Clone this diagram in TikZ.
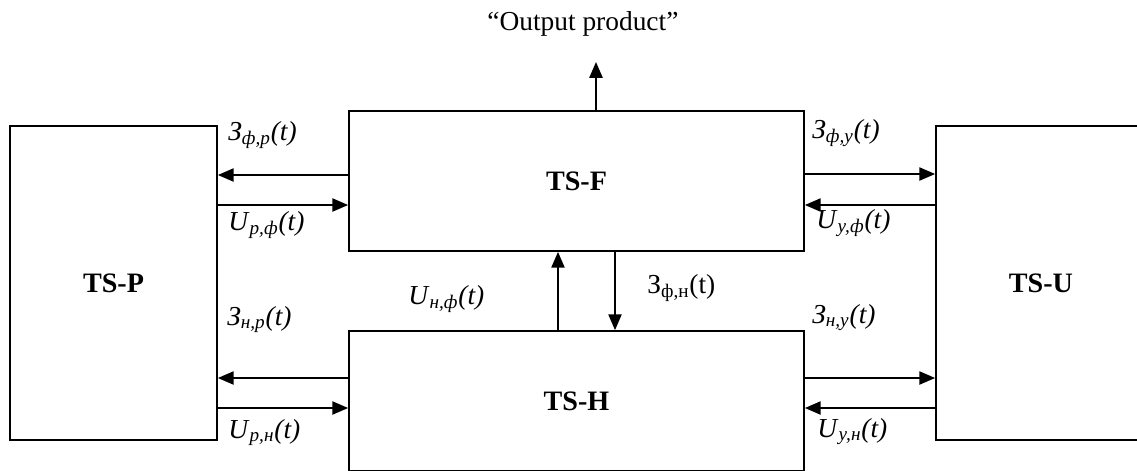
\documentclass[tikz,border=0pt]{standalone}
\usepackage{fontspec}
\setmainfont{Liberation Serif}
\usetikzlibrary{arrows.meta}
\newcommand{\sgn}[2]{\textit{#1}\textsubscript{\textit{#2}}\textit{(t)}}

\begin{document}
\begin{tikzpicture}[font=\fontsize{15.6}{18}\selectfont]
\tikzstyle{block} = [draw, line width=1pt, inner sep=0pt, font=\fontsize{16}{18}\selectfont\bfseries]
\tikzstyle{flow} = [line width=1pt, -{Triangle[length=9pt,width=7.5pt]}]
\tikzstyle{lbl} = [anchor=base west, inner sep=0pt]

\clip (0,0) rectangle (22.74,-9.4);

% subsystems
\node[block, minimum width=4.14cm, minimum height=6.28cm] (p) at (2.27,-5.66) {TS-P};
\node[block, minimum width=9.1cm, minimum height=2.8cm] (f) at (11.53,-3.62) {TS-F};
\node[block, minimum width=9.1cm, minimum height=2.8cm] (h) at (11.53,-8.02) {TS-H};
\node[block, minimum width=4.2cm, minimum height=6.28cm] (u) at (20.82,-5.66) {TS-U};

\node[lbl] (out) at (9.74,-0.6) {``Output product''};
\coordinate (outtip) at (11.92,-1.24);
\draw[flow] (f.north -| outtip) -- (outtip);

% TS-F links
\draw[flow] (f.west |- 0,-3.5) -- (p.east |- 0,-3.5);
\draw[flow] (p.east |- 0,-4.1) -- (f.west |- 0,-4.1);
\draw[flow] (f.east |- 0,-3.48) -- (u.west |- 0,-3.48);
\draw[flow] (u.west |- 0,-4.1) -- (f.east |- 0,-4.1);

% TS-H links
\draw[flow] (h.west |- 0,-7.56) -- (p.east |- 0,-7.56);
\draw[flow] (p.east |- 0,-8.16) -- (h.west |- 0,-8.16);
\draw[flow] (h.east |- 0,-7.56) -- (u.west |- 0,-7.56);
\draw[flow] (u.west |- 0,-8.16) -- (h.east |- 0,-8.16);

% TS-H <-> TS-F
\draw[flow] (h.north -| 11.16,0) -- (f.south -| 11.16,0);
\draw[flow] (f.south -| 12.3,0) -- (h.north -| 12.3,0);

% signals
\node[lbl] (zfp) at (4.56,-2.8) {\sgn{З}{ф,р}};
\node[lbl] (upf) at (4.56,-4.6) {\sgn{U}{р,ф}};
\node[lbl] (zfy) at (16.24,-2.76) {\sgn{З}{ф,у}};
\node[lbl] (uyf) at (16.32,-4.56) {\sgn{U}{у,ф}};
\node[lbl] (unf) at (8.16,-6.08) {\sgn{U}{н,ф}};
\node[lbl] (zfn) at (12.94,-5.86) {З\textsubscript{ф,н}(t)};
\node[lbl] (znp) at (4.54,-6.5) {\sgn{З}{н,р}};
\node[lbl] (upn) at (4.56,-8.76) {\sgn{U}{р,н}};
\node[lbl] (zny) at (16.24,-6.46) {\sgn{З}{н,у}};
\node[lbl] (uyn) at (16.34,-8.74) {\sgn{U}{у,н}};
\end{tikzpicture}
\end{document}
